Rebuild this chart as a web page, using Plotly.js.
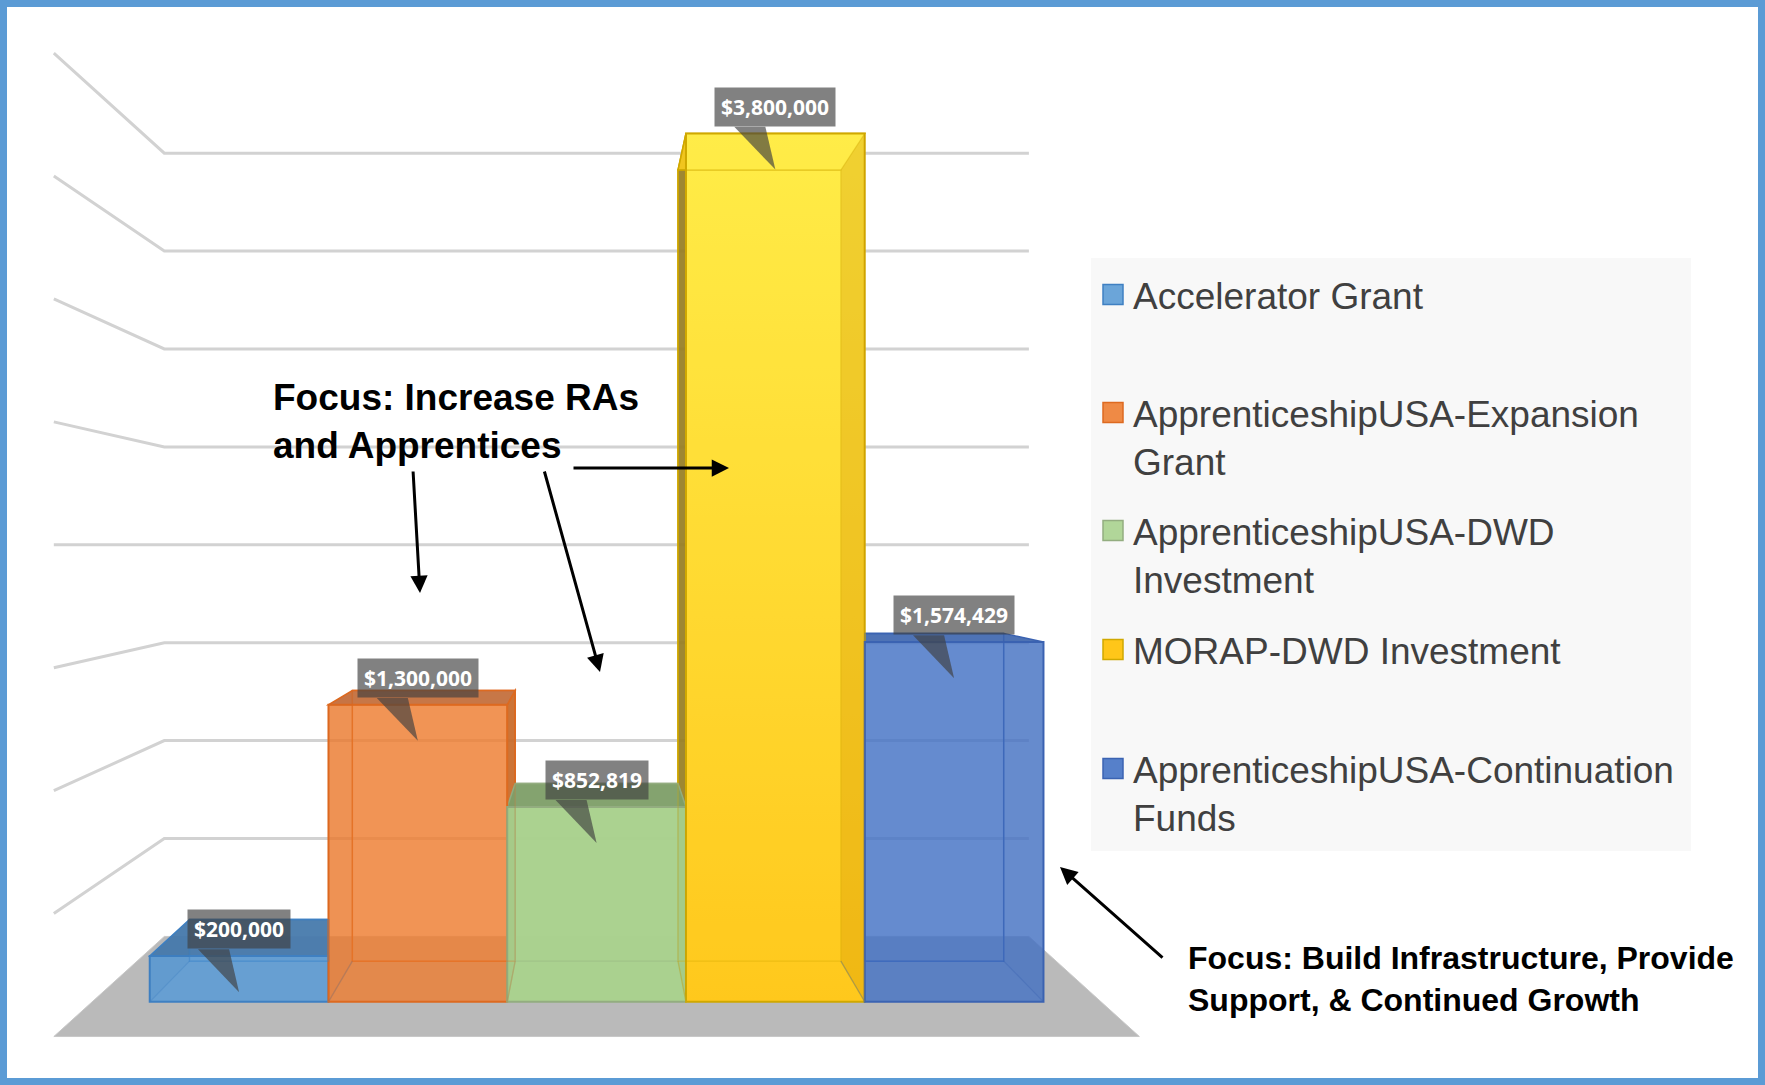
<!DOCTYPE html>
<html><head><meta charset="utf-8">
<script src="https://cdn.plot.ly/plotly-3.0.1.min.js"></script>
<style>html,body{margin:0;padding:0;background:#fff;overflow:hidden}#chart{width:1765px;height:1085px}</style>
</head><body><div id="chart"></div>
<script>
// ---------------- data ----------------
const categories = ['Accelerator Grant', 'ApprenticeshipUSA-Expansion Grant', 'ApprenticeshipUSA-DWD Investment', 'MORAP-DWD Investment', 'ApprenticeshipUSA-Continuation Funds'];
const legendLabels = ['Accelerator Grant', 'ApprenticeshipUSA-Expansion<br>Grant', 'ApprenticeshipUSA-DWD<br>Investment', 'MORAP-DWD Investment', 'ApprenticeshipUSA-Continuation<br>Funds'];
const values = [200000, 1300000, 852819, 3800000, 1574429];
const gridValues = [500000, 1000000, 1500000, 2000000, 2500000, 3000000, 3500000, 4000000];
const focusTextA = 'Focus: Increase RAs<br>and Apprentices';
const focusTextB = 'Focus: Build Infrastructure, Provide<br>Support, &amp; Continued Growth';

// ---------------- style ----------------
const frontColors = ['rgba(91,155,213,0.88)', 'rgba(237,125,49,0.80)', 'rgba(169,209,142,0.98)', 'rgba(255,214,42,0.20)', 'rgba(68,114,196,0.80)'];
const swatchColors = ['#5B9BD5', '#ED7D31', '#A9D18E', '#FFC000', '#4472C4'];
const edgeColors  = ['#3F80C2', '#DD6A20', '#93AD80', '#D0A800', '#3B63B2'];
const topColors   = ['rgba(72,122,172,0.95)', 'rgba(196,112,62,0.95)', 'rgba(128,160,106,0.97)', 'rgba(245,200,30,0.95)', 'rgba(64,104,176,0.92)'];
const sideColors  = ['rgba(60,120,180,0.85)', 'rgba(200,105,40,0.92)', 'rgba(120,160,95,0.9)', 'rgba(150,125,35,0.92)', 'rgba(55,95,175,0.85)'];
const innerColors = ['rgba(40,100,170,0.06)', 'rgba(200,90,20,0.08)', 'rgba(100,140,80,0.06)', 'rgba(205,145,0,0.30)', 'rgba(40,80,160,0.04)'];
const backColors  = ['rgba(91,155,213,0.12)', 'rgba(237,125,49,0.12)', 'rgba(169,209,142,0.12)', 'rgba(255,200,0,0.12)', 'rgba(68,114,196,0.12)'];
// vertical shading of the front faces (top colour, bottom colour), null = flat
const frontGradients = [null, null, null, ['#FFF250', '#FFC51A'], null];

const W = 1765, H = 1085;
// pseudo-3D projection (vanishing point at category 2, value 2M)
const CX = 2, HV = 2000000;
const S_BACK = 0.911, S_WALL = 0.857, S_FLOOR = 1.076;
const WALL_L = -0.822, WALL_R = 4.822;
function P(X, V, s) { return [CX + (X - CX) * s, HV + (V - HV) * s]; }
function path(pts, close) {
  return pts.map((p, k) => (k ? 'L' : 'M') + p[0].toFixed(5) + ',' + p[1].toFixed(1)).join(' ') + (close ? ' Z' : '');
}
// clip a polygon to lo <= x <= hi (parts hidden behind a taller neighbour are removed)
function clipX(pts, lo, hi) {
  function clip(poly, keep, cutX) {
    const out = [];
    for (let k = 0; k < poly.length; k++) {
      const a = poly[k], b = poly[(k + 1) % poly.length];
      const ia = keep(a[0]), ib = keep(b[0]);
      if (ia) out.push(a);
      if (ia !== ib) {
        const t = (cutX - a[0]) / (b[0] - a[0]);
        out.push([cutX, a[1] + t * (b[1] - a[1])]);
      }
    }
    return out;
  }
  let p = pts;
  if (isFinite(lo)) p = clip(p, x => x >= lo - 1e-9, lo);
  if (isFinite(hi)) p = clip(p, x => x <= hi + 1e-9, hi);
  return p;
}
function gradientSvg(top, bottom) {
  const svg = '<svg xmlns="http://www.w3.org/2000/svg" width="10" height="100" preserveAspectRatio="none">' +
    '<defs><linearGradient id="g" x1="0" y1="0" x2="0" y2="1"><stop offset="0" stop-color="' + top + '"/>' +
    '<stop offset="1" stop-color="' + bottom + '"/></linearGradient></defs>' +
    '<rect width="10" height="100" fill="url(#g)"/></svg>';
  return 'data:image/svg+xml;base64,' + btoa(svg);
}
const n = values.length;
const visLo = values.map((v, i) => (i > 0 && values[i - 1] >= v) ? i - 0.5 : -Infinity);
const visHi = values.map((v, i) => (i < n - 1 && values[i + 1] >= v) ? i + 0.5 : Infinity);

const shapes = [];
// legend background
shapes.push({type: 'rect', xref: 'paper', yref: 'paper', x0: 1091 / W, x1: 1691 / W, y0: 1 - 851 / H, y1: 1 - 258 / H,
  fillcolor: '#F8F8F8', line: {width: 0}, layer: 'below'});
// gridlines on back wall + side wall
gridValues.forEach(t => {
  shapes.push({type: 'path', xref: 'x', yref: 'y', layer: 'below',
    path: path([P(WALL_L, t, S_FLOOR), P(WALL_L, t, S_WALL), P(WALL_R, t, S_WALL)], false),
    line: {color: '#D2D2D2', width: 3}});
});
// floor
shapes.push({type: 'path', xref: 'x', yref: 'y', layer: 'below',
  path: path([P(WALL_L, 0, S_FLOOR), P(WALL_R, 0, S_FLOOR), P(WALL_R, 0, S_WALL), P(WALL_L, 0, S_WALL)], true),
  fillcolor: '#BABABA', line: {color: '#C8C8C8', width: 1}});
// bar back faces
values.forEach((v, i) => {
  const L = i - 0.5, R = i + 0.5;
  shapes.push({type: 'path', xref: 'x', yref: 'y', layer: 'below',
    path: path(clipX([P(L, 0, S_BACK), P(R, 0, S_BACK), P(R, v, S_BACK), P(L, v, S_BACK)], visLo[i], visHi[i]), true),
    fillcolor: backColors[i], line: {color: edgeColors[i], width: 1.5}});
});
// side faces
values.forEach((v, i) => {
  const L = i - 0.5, R = i + 0.5;
  [[L, -1], [R, 1]].forEach(([E, dir]) => {
    const facing = (dir === 1 && R <= CX) || (dir === -1 && L >= CX);
    const pts = [P(E, 0, 1), P(E, v, 1), P(E, v, S_BACK), P(E, 0, S_BACK)];
    if (facing) {
      const j = i + dir;
      if (j >= 0 && j < n && values[j] >= v) return;
      shapes.push({type: 'path', xref: 'x', yref: 'y', layer: 'below', path: path(pts, true),
        fillcolor: sideColors[i], line: {color: edgeColors[i], width: 1.5}});
    } else {
      shapes.push({type: 'path', xref: 'x', yref: 'y', layer: 'above', path: path(pts, true),
        fillcolor: innerColors[i], line: {width: 0}});
    }
  });
});
// top faces
values.forEach((v, i) => {
  const L = i - 0.5, R = i + 0.5;
  shapes.push({type: 'path', xref: 'x', yref: 'y', layer: 'below',
    path: path(clipX([P(L, v, 1), P(R, v, 1), P(R, v, S_BACK), P(L, v, S_BACK)], visLo[i], visHi[i]), true),
    fillcolor: topColors[i], line: {color: edgeColors[i], width: 1.5}});
});
// back edges seen through the transparent front
values.forEach((v, i) => {
  const L = i - 0.5, R = i + 0.5;
  shapes.push({type: 'path', xref: 'x', yref: 'y', layer: 'above',
    path: path(clipX([P(L, 0, S_BACK), P(R, 0, S_BACK), P(R, v, S_BACK), P(L, v, S_BACK)], visLo[i], visHi[i]), true),
    fillcolor: 'rgba(0,0,0,0)', line: {color: edgeColors[i], width: 1.2}, opacity: 0.35});
  [L, R].forEach(E => {
    shapes.push({type: 'path', xref: 'x', yref: 'y', layer: 'above',
      path: path([P(E, 0, 1), P(E, 0, S_BACK)], false),
      line: {color: edgeColors[i], width: 1.2}, opacity: 0.35});
  });
  if (frontGradients[i]) {
    shapes.push({type: 'path', xref: 'x', yref: 'y', layer: 'above',
      path: path([P(L, v, 1), P(R, v, 1), P(R, v, S_BACK), P(L, v, S_BACK)], true),
      fillcolor: 'rgba(0,0,0,0)', line: {color: edgeColors[i], width: 1.2}, opacity: 0.35});
  }
});
// data-label callout wedges
const LABEL_BG = 'rgba(64,64,64,0.66)';
const LABEL_LIFT = 30000;
values.forEach((v, i) => {
  shapes.push({type: 'path', xref: 'x', yref: 'y', layer: 'above',
    path: path([[i - 0.23, v + LABEL_LIFT], [i - 0.056, v + LABEL_LIFT], [i, v - 158000]], true),
    fillcolor: LABEL_BG, line: {width: 0}});
});
// outer border
shapes.push({type: 'rect', xref: 'paper', yref: 'paper', x0: 0, x1: 1, y0: 0, y1: 1,
  line: {color: '#5B9BD5', width: 14}, layer: 'above'});

// shaded front faces (drawn under the translucent bar)
const images = [];
values.forEach((v, i) => {
  if (!frontGradients[i]) return;
  images.push({source: gradientSvg(frontGradients[i][0], frontGradients[i][1]), xref: 'x', yref: 'y',
    x: i - 0.5, y: v, sizex: 1, sizey: v, xanchor: 'left', yanchor: 'top', sizing: 'stretch', layer: 'below'});
});

// ---------------- traces (front faces) ----------------
const traces = values.map((v, i) => ({
  type: 'bar', x: [i], y: [v], width: 1, name: legendLabels[i],
  marker: {color: frontColors[i], line: {color: edgeColors[i], width: 2}},
  legend: i === 0 ? 'legend' : 'legend' + (i + 1),
  hoverinfo: 'skip'
}));

// ---------------- annotations ----------------
const annotations = [];
values.forEach((v, i) => {
  annotations.push({x: i, y: v + LABEL_LIFT, xref: 'x', yref: 'y', xanchor: 'center', yanchor: 'bottom',
    text: '$' + v.toLocaleString('en-US'), showarrow: false, bgcolor: LABEL_BG, borderpad: 6, height: 26,
    font: {family: 'Open Sans', size: 21, color: '#FFFFFF', weight: 'bold'}});
});
annotations.push({x: 271 / W, y: 1 - 421 / H, xref: 'paper', yref: 'paper', xanchor: 'left', yanchor: 'middle',
  align: 'left', text: focusTextA, showarrow: false,
  font: {family: 'Liberation Sans', size: 37, color: '#000', weight: 'bold'}});
annotations.push({x: 1186 / W, y: 1 - 979 / H, xref: 'paper', yref: 'paper', xanchor: 'left', yanchor: 'middle',
  align: 'left', text: focusTextB, showarrow: false,
  font: {family: 'Liberation Sans', size: 32, color: '#000', weight: 'bold'}});
const arrows = [
  {hx: 420, hy: 593, tx: 413, ty: 470},
  {hx: 600, hy: 672, tx: 544, ty: 470},
  {hx: 729, hy: 468, tx: 572, ty: 468},
  {hx: 1060, hy: 867, tx: 1164, ty: 959}
];
arrows.forEach(a => annotations.push({x: a.hx / W, y: 1 - a.hy / H, xref: 'paper', yref: 'paper',
  ax: a.tx - a.hx, ay: a.ty - a.hy, text: '', showarrow: true, arrowhead: 2, arrowsize: 1.15,
  arrowwidth: 3, arrowcolor: '#000'}));

// ---------------- layout ----------------
const legendCenters = [296, 414, 532, 651, 770];
const layout = {
  width: W, height: H, autosize: false,
  margin: {l: 0, r: 0, t: 0, b: 0, pad: 0},
  paper_bgcolor: '#FFFFFF', plot_bgcolor: 'rgba(0,0,0,0)',
  barmode: 'overlay', showlegend: true,
  xaxis: {range: [2 - 596.6 / 178.75, 2 + (W - 596.6) / 178.75], visible: false, fixedrange: true},
  yaxis: {range: [2000000 - (H - 544.8) / 228.5 * 1e6, 2000000 + 544.8 / 228.5 * 1e6], visible: false, fixedrange: true},
  shapes: shapes, annotations: annotations, images: images
};
legendCenters.forEach((c, k) => {
  layout[k === 0 ? 'legend' : 'legend' + (k + 1)] = {
    x: 1093 / W, y: 1 - (c - 32) / H, xanchor: 'left', yanchor: 'top', valign: 'top',
    bgcolor: 'rgba(0,0,0,0)', borderwidth: 0,
    font: {family: 'Liberation Sans', size: 37, color: '#404040'}
  };
});
Plotly.newPlot('chart', traces, layout, {displayModeBar: false, staticPlot: true}).then(gd => {
  // enlarge the legend swatches to the reference's size and show the solid series colours
  for (let k = 0; k < n; k++) {
    const lg = gd.querySelector('.' + (k === 0 ? 'legend' : 'legend' + (k + 1)));
    if (!lg) continue;
    lg.querySelectorAll('.legendpoints path').forEach(p => {
      p.setAttribute('d', 'M10,10H-10V-10H10Z');
      p.style.fill = swatchColors[k];
      p.style.fillOpacity = '0.9';
      p.style.strokeWidth = '1.5px';
    });
  }
});
</script></body></html>
